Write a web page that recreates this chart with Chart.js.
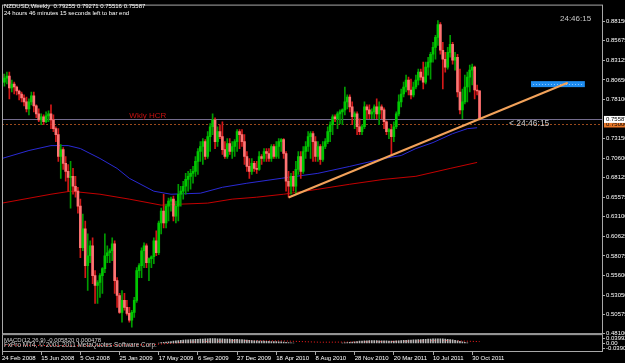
<!DOCTYPE html>
<html>
<head>
<meta charset="utf-8">
<script src="https://cdn.jsdelivr.net/npm/chart.js@4.4.1/dist/chart.umd.min.js"></script>
<style>
html, body { margin: 0; padding: 0; background: #000; overflow: hidden; }
canvas { display: block; }
</style>
</head>
<body>
<canvas id="chart" width="625" height="363"></canvas>
<script>
// NZDUSD weekly candles (24 Feb 2008 .. 20 Nov 2011)
var opens = [
  0.8140, 0.8038, 0.8089, 0.8115, 0.7962, 0.8013, 0.7975, 0.7924, 0.7885, 0.7834,
  0.7784, 0.7694, 0.7784, 0.7860, 0.7733, 0.7631, 0.7554, 0.7593, 0.7529, 0.7605,
  0.7631, 0.7554, 0.7440, 0.7363, 0.7083, 0.7172, 0.6994, 0.6892, 0.6816, 0.6829,
  0.6701, 0.6638, 0.6447, 0.5912, 0.6154, 0.5682, 0.5810, 0.5937, 0.5555, 0.5428,
  0.5466, 0.5555, 0.5644, 0.5810, 0.5848, 0.5874, 0.5963, 0.5491, 0.5300, 0.5084,
  0.5237, 0.5148, 0.5071, 0.4982, 0.5084, 0.5237, 0.5619, 0.5682, 0.5874, 0.5937,
  0.5721, 0.5772, 0.5797, 0.6001, 0.5848, 0.6230, 0.6383, 0.6230, 0.6447, 0.6510,
  0.6536, 0.6319, 0.6447, 0.6599, 0.6638, 0.6701, 0.6790, 0.6829, 0.6867, 0.6892,
  0.7020, 0.7147, 0.7211, 0.7274, 0.7083, 0.7338, 0.7465, 0.7554, 0.7274, 0.7402,
  0.7338, 0.7172, 0.7083, 0.7249, 0.7147, 0.7211, 0.7274, 0.7402, 0.7363, 0.7274,
  0.7083, 0.6956, 0.6892, 0.6994, 0.6930, 0.6918, 0.7083, 0.7058, 0.7147, 0.7122,
  0.7058, 0.7211, 0.7083, 0.7211, 0.7274, 0.7300, 0.7122, 0.6765, 0.6701, 0.6829,
  0.6701, 0.6918, 0.7083, 0.6892, 0.7147, 0.7211, 0.7338, 0.7376, 0.7274, 0.7083,
  0.7211, 0.7045, 0.7211, 0.7274, 0.7402, 0.7491, 0.7593, 0.7567, 0.7631, 0.7656,
  0.7682, 0.7784, 0.7847, 0.7720, 0.7593, 0.7631, 0.7465, 0.7402, 0.7465, 0.7720,
  0.7682, 0.7631, 0.7656, 0.7720, 0.7631, 0.7720, 0.7682, 0.7529, 0.7402, 0.7427,
  0.7338, 0.7465, 0.7631, 0.7784, 0.7885, 0.7975, 0.8064, 0.7936, 0.7873, 0.7975,
  0.8064, 0.8166, 0.8102, 0.8038, 0.8229, 0.8293, 0.8395, 0.8484, 0.8611, 0.8777,
  0.8446, 0.8331, 0.8229, 0.8420, 0.8522, 0.8318, 0.8357, 0.7911, 0.7682, 0.7784,
  0.7975, 0.8102, 0.8191, 0.8229, 0.7936, 0.79255
];
var highs = [
  0.8204, 0.8140, 0.8166, 0.8166, 0.8064, 0.8038, 0.7987, 0.7936, 0.7911, 0.7873,
  0.7847, 0.7822, 0.7911, 0.7911, 0.7745, 0.7694, 0.7631, 0.7618, 0.7656, 0.7669,
  0.7745, 0.7618, 0.7465, 0.7440, 0.7236, 0.7198, 0.7083, 0.6981, 0.7020, 0.6930,
  0.6829, 0.6688, 0.6536, 0.6345, 0.6256, 0.6090, 0.6001, 0.6039, 0.5619, 0.5491,
  0.5580, 0.5657, 0.6090, 0.5937, 0.5899, 0.6039, 0.6001, 0.5530, 0.5326, 0.5364,
  0.5326, 0.5237, 0.5148, 0.5110, 0.5275, 0.5657, 0.5708, 0.5912, 0.5975, 0.5963,
  0.5784, 0.5810, 0.6039, 0.6128, 0.6256, 0.6421, 0.6599, 0.6472, 0.6549, 0.6561,
  0.6574, 0.6510, 0.6727, 0.6701, 0.6765, 0.6867, 0.6892, 0.6918, 0.6956, 0.7083,
  0.7185, 0.7274, 0.7312, 0.7300, 0.7402, 0.7504, 0.7631, 0.7580, 0.7465, 0.7491,
  0.7529, 0.7274, 0.7312, 0.7312, 0.7274, 0.7300, 0.7427, 0.7427, 0.7427, 0.7363,
  0.7147, 0.7058, 0.7058, 0.7020, 0.7020, 0.7147, 0.7109, 0.7185, 0.7185, 0.7185,
  0.7236, 0.7236, 0.7274, 0.7312, 0.7312, 0.7312, 0.7147, 0.6892, 0.6867, 0.6892,
  0.7020, 0.7147, 0.7147, 0.7211, 0.7274, 0.7402, 0.7402, 0.7402, 0.7338, 0.7274,
  0.7236, 0.7274, 0.7312, 0.7465, 0.7529, 0.7618, 0.7618, 0.7656, 0.7682, 0.7694,
  0.7975, 0.7873, 0.7873, 0.7784, 0.7656, 0.7656, 0.7567, 0.7491, 0.7784, 0.7745,
  0.7745, 0.7694, 0.7745, 0.7822, 0.7784, 0.7745, 0.7707, 0.7542, 0.7440, 0.7491,
  0.7529, 0.7656, 0.7873, 0.7949, 0.8038, 0.8127, 0.8102, 0.8076, 0.8038, 0.8127,
  0.8204, 0.8204, 0.8293, 0.8293, 0.8357, 0.8420, 0.8548, 0.8637, 0.8828, 0.8802,
  0.8548, 0.8420, 0.8484, 0.8637, 0.8548, 0.8420, 0.8395, 0.8204, 0.7949, 0.8127,
  0.8166, 0.8255, 0.8268, 0.8242, 0.8000, 0.79271
];
var lows = [
  0.7949, 0.7987, 0.8013, 0.7822, 0.7911, 0.7885, 0.7873, 0.7809, 0.7784, 0.7733,
  0.7656, 0.7618, 0.7745, 0.7656, 0.7580, 0.7529, 0.7491, 0.7491, 0.7516, 0.7529,
  0.7440, 0.7402, 0.7274, 0.7020, 0.6803, 0.6918, 0.6765, 0.6638, 0.6421, 0.6599,
  0.6561, 0.6357, 0.5784, 0.5874, 0.5530, 0.5364, 0.5721, 0.5453, 0.5199, 0.5199,
  0.5275, 0.5326, 0.5593, 0.5721, 0.5721, 0.5746, 0.5326, 0.5148, 0.5071, 0.4957,
  0.5110, 0.5046, 0.4957, 0.4893, 0.5020, 0.5211, 0.5530, 0.5530, 0.5657, 0.5657,
  0.5491, 0.5657, 0.5708, 0.5810, 0.5823, 0.6090, 0.6166, 0.6166, 0.6256, 0.6383,
  0.6256, 0.6230, 0.6256, 0.6447, 0.6536, 0.6599, 0.6638, 0.6663, 0.6740, 0.6829,
  0.6854, 0.7020, 0.6981, 0.7045, 0.7058, 0.7147, 0.7363, 0.7185, 0.7211, 0.7312,
  0.7109, 0.7058, 0.7058, 0.7109, 0.7058, 0.7083, 0.7147, 0.7185, 0.7211, 0.6981,
  0.6892, 0.6803, 0.6854, 0.6892, 0.6867, 0.6905, 0.6981, 0.7020, 0.7020, 0.7020,
  0.7020, 0.7058, 0.7058, 0.7058, 0.7147, 0.7058, 0.6638, 0.6561, 0.6599, 0.6638,
  0.6599, 0.6854, 0.6803, 0.6867, 0.7058, 0.7147, 0.7058, 0.7020, 0.7020, 0.7020,
  0.6981, 0.7020, 0.7185, 0.7249, 0.7274, 0.7363, 0.7529, 0.7440, 0.7504, 0.7491,
  0.7618, 0.7694, 0.7656, 0.7491, 0.7440, 0.7363, 0.7363, 0.7363, 0.7440, 0.7567,
  0.7567, 0.7567, 0.7567, 0.7567, 0.7491, 0.7567, 0.7440, 0.7363, 0.7312, 0.7109,
  0.7274, 0.7440, 0.7605, 0.7720, 0.7847, 0.7911, 0.7873, 0.7822, 0.7847, 0.7949,
  0.8000, 0.8064, 0.7949, 0.8013, 0.8127, 0.8076, 0.8293, 0.8331, 0.8509, 0.8395,
  0.7949, 0.8166, 0.8204, 0.8357, 0.8268, 0.8191, 0.7847, 0.7631, 0.7567, 0.7758,
  0.7784, 0.7911, 0.8000, 0.7822, 0.7873, 0.75516
];
var closes = [
  0.8038, 0.8089, 0.8115, 0.7962, 0.8013, 0.7975, 0.7924, 0.7885, 0.7834, 0.7784,
  0.7694, 0.7784, 0.7860, 0.7733, 0.7631, 0.7554, 0.7593, 0.7529, 0.7605, 0.7631,
  0.7554, 0.7440, 0.7363, 0.7083, 0.7172, 0.6994, 0.6892, 0.6816, 0.6829, 0.6701,
  0.6638, 0.6447, 0.5912, 0.6154, 0.5682, 0.5810, 0.5937, 0.5555, 0.5428, 0.5466,
  0.5555, 0.5644, 0.5810, 0.5848, 0.5874, 0.5963, 0.5491, 0.5300, 0.5084, 0.5237,
  0.5148, 0.5071, 0.4982, 0.5084, 0.5237, 0.5619, 0.5682, 0.5874, 0.5937, 0.5721,
  0.5772, 0.5797, 0.6001, 0.5848, 0.6230, 0.6383, 0.6230, 0.6447, 0.6510, 0.6536,
  0.6319, 0.6447, 0.6599, 0.6638, 0.6701, 0.6790, 0.6829, 0.6867, 0.6892, 0.7020,
  0.7147, 0.7211, 0.7274, 0.7083, 0.7338, 0.7465, 0.7554, 0.7274, 0.7402, 0.7338,
  0.7172, 0.7083, 0.7249, 0.7147, 0.7211, 0.7274, 0.7402, 0.7363, 0.7274, 0.7083,
  0.6956, 0.6892, 0.6994, 0.6930, 0.6918, 0.7083, 0.7058, 0.7147, 0.7122, 0.7058,
  0.7211, 0.7083, 0.7211, 0.7274, 0.7300, 0.7122, 0.6765, 0.6701, 0.6829, 0.6701,
  0.6918, 0.7083, 0.6892, 0.7147, 0.7211, 0.7338, 0.7376, 0.7274, 0.7083, 0.7211,
  0.7045, 0.7211, 0.7274, 0.7402, 0.7491, 0.7593, 0.7567, 0.7631, 0.7656, 0.7682,
  0.7784, 0.7847, 0.7720, 0.7593, 0.7631, 0.7465, 0.7402, 0.7465, 0.7720, 0.7682,
  0.7631, 0.7656, 0.7720, 0.7631, 0.7720, 0.7682, 0.7529, 0.7402, 0.7427, 0.7338,
  0.7465, 0.7631, 0.7784, 0.7885, 0.7975, 0.8064, 0.7936, 0.7873, 0.7975, 0.8064,
  0.8166, 0.8102, 0.8038, 0.8229, 0.8293, 0.8395, 0.8484, 0.8611, 0.8777, 0.8446,
  0.8331, 0.8229, 0.8420, 0.8522, 0.8318, 0.8357, 0.7911, 0.7682, 0.7784, 0.7975,
  0.8102, 0.8191, 0.8229, 0.7936, 0.7924, 0.75587
];

// 196 weekly bars + empty chart shift on the right
var totalBars = 246;
var tickBars = [0, 16, 32, 48, 64, 80, 96, 112, 128, 144, 160, 176, 192];
var tickLabels = ["24 Feb 2008", "15 Jun 2008", "5 Oct 2008", "25 Jan 2009", "17 May 2009", "6 Sep 2009",
  "27 Dec 2009", "18 Apr 2010", "8 Aug 2010", "28 Nov 2010", "20 Mar 2011", "10 Jul 2011", "30 Oct 2011"];
var priceTicks = [0.88150, 0.85675, 0.83125, 0.80650, 0.78100, 0.73150, 0.70600, 0.68125,
  0.65575, 0.63100, 0.60625, 0.58075, 0.55600, 0.53050, 0.50575, 0.48100];
var macdTicks = [0.03992, 0, -0.03907];

// moving averages
var blueMaBars = [0, 11, 20, 27, 32, 40, 47, 52, 62, 69, 81, 90, 100, 114, 129, 142, 156, 163, 169, 176, 184, 190, 194];
var blueMaVals = [0.7058, 0.7160, 0.7223, 0.7223, 0.7185, 0.7058, 0.6930, 0.6803, 0.6638, 0.6599, 0.6612, 0.6688,
  0.6740, 0.6803, 0.6867, 0.6956, 0.7058, 0.7096, 0.7185, 0.7262, 0.7376, 0.7440, 0.7452];
var redMaBars = [0, 20, 28, 40, 52, 65, 73, 84, 94, 104, 115, 129, 142, 156, 169, 183, 194];
var redMaVals = [0.6485, 0.6599, 0.6638, 0.6599, 0.6536, 0.6459, 0.6472, 0.6485, 0.6536, 0.6561, 0.6599,
  0.6663, 0.6727, 0.6790, 0.6829, 0.6930, 0.7007];

// drawn objects
var trendBars = [117, 231];
var trendVals = [0.6557, 0.8029];
var boxBars = [216, 238];
var boxVals = [0.8050, 0.7973];
var bidPrice = 0.75587;
var hcrPrice = 0.75000;

// MACD(12,26,9) sub window
var macdStartA = 64;
var macdHistA = [
  0.004, 0.007, 0.009, 0.012, 0.014, 0.016, 0.018, 0.020, 0.022, 0.024,
  0.026, 0.028, 0.029, 0.030, 0.031, 0.032, 0.033, 0.034, 0.035, 0.036,
  0.037, 0.038, 0.038, 0.038, 0.037, 0.037, 0.036, 0.035, 0.035, 0.034,
  0.033, 0.033, 0.032, 0.031, 0.030, 0.028, 0.026, 0.024, 0.022, 0.021,
  0.020, 0.019, 0.018, 0.018, 0.017, 0.017, 0.016, 0.016, 0.015, 0.014,
  0.013, 0.012, 0.010, 0.008, 0.006, 0.004
];
var macdStartB = 139;
var macdHistB = [
  0.004, 0.006, 0.008, 0.010, 0.012, 0.014, 0.016, 0.018, 0.019, 0.020,
  0.021, 0.022, 0.022, 0.022, 0.022, 0.021, 0.021, 0.020, 0.020, 0.019,
  0.019, 0.019, 0.020, 0.021, 0.022, 0.024, 0.025, 0.026, 0.027, 0.028,
  0.029, 0.030, 0.031, 0.032, 0.033, 0.034, 0.035, 0.036, 0.037, 0.037,
  0.037, 0.036, 0.035, 0.033, 0.031, 0.028, 0.025, 0.021, 0.017, 0.013,
  0.009, 0.005
];
var signalBars = [0, 30, 60, 75, 95, 115, 130, 145, 165, 180, 195];
var signalVals = [-0.012, -0.018, -0.010, 0.010, 0.022, 0.020, 0.010, 0.012, 0.018, 0.024, 0.015];

var labels = [];
for (var i = 0; i < totalBars; i++) labels.push(i);

var isBull = closes.map(function (c, i) { return c >= opens[i]; });
var wicks = lows.map(function (l, i) { return [l, highs[i]]; });
var bodies = opens.map(function (o, i) { return [o, closes[i]]; });

function pts(bars, vals) {
  return bars.map(function (b, i) { return { x: b, y: vals[i] }; });
}
var macdPts = macdHistA.map(function (v, i) { return { x: macdStartA + i, y: v }; })
  .concat(macdHistB.map(function (v, i) { return { x: macdStartB + i, y: v }; }));

var FONT = "'Liberation Sans', Arial, sans-serif";
Chart.defaults.font.family = FONT;

var overlay = {
  id: 'overlay',
  beforeDraw: function (chart) {
    var ctx = chart.ctx;
    ctx.save();
    ctx.fillStyle = '#000';
    ctx.fillRect(0, 0, chart.width, chart.height);
    ctx.restore();
  },
  beforeDatasetsDraw: function (chart) {
    var ctx = chart.ctx, a = chart.chartArea, x = chart.scales.x, y = chart.scales.y;
    ctx.save();
    // blue rectangle
    var bx0 = x.getPixelForValue(boxBars[0]), bx1 = x.getPixelForValue(boxBars[1]);
    var by0 = y.getPixelForValue(boxVals[0]), by1 = y.getPixelForValue(boxVals[1]);
    ctx.fillStyle = '#1e8cf0';
    ctx.fillRect(bx0, by0, bx1 - bx0, by1 - by0);
    ctx.strokeStyle = '#8cc8ff';
    ctx.setLineDash([1, 2]);
    ctx.beginPath();
    var bm = Math.round((by0 + by1) / 2) + 0.5;
    ctx.moveTo(bx0 + 2, bm); ctx.lineTo(bx1 - 2, bm);
    ctx.stroke();
    // HCR dotted line
    var hy = Math.round(y.getPixelForValue(hcrPrice)) + 0.5;
    ctx.strokeStyle = '#9a4a1c';
    ctx.setLineDash([2, 2]);
    ctx.beginPath(); ctx.moveTo(a.left, hy); ctx.lineTo(a.right, hy); ctx.stroke();
    // bid line
    var py = Math.round(y.getPixelForValue(bidPrice)) + 0.5;
    ctx.setLineDash([]);
    ctx.strokeStyle = '#736b8c';
    ctx.beginPath(); ctx.moveTo(a.left, py); ctx.lineTo(a.right, py); ctx.stroke();
    // labels on the chart
    ctx.fillStyle = '#c81010';
    ctx.font = '8px ' + FONT;
    ctx.textBaseline = 'alphabetic';
    ctx.fillText('Wkly HCR', x.getPixelForValue(52), hy - 7);
    ctx.restore();
  },
  afterDraw: function (chart) {
    var ctx = chart.ctx, a = chart.chartArea, x = chart.scales.x, y = chart.scales.y, y2 = chart.scales.y2;
    ctx.save();
    // pane frames
    ctx.strokeStyle = '#a8a8a8';
    ctx.lineWidth = 1;
    ctx.strokeRect(a.left + 0.5, y.top + 0.5, a.right - a.left, y.bottom - y.top - 1);
    ctx.strokeRect(a.left + 0.5, y2.top + 0.5, a.right - a.left, y2.bottom - y2.top - 1);
    // price boxes
    var hy = y.getPixelForValue(hcrPrice), py = y.getPixelForValue(bidPrice);
    ctx.font = '6px ' + FONT;
    ctx.textBaseline = 'middle';
    ctx.fillStyle = '#e8782a';
    ctx.fillRect(a.right + 2, hy - 3.5, 30, 7);
    ctx.fillStyle = '#000';
    ctx.fillText(hcrPrice.toFixed(5), a.right + 4, hy);
    ctx.fillStyle = '#ffffff';
    ctx.fillRect(a.right + 2, py - 3.5, 30, 7);
    ctx.fillStyle = '#000';
    ctx.fillText(bidPrice.toFixed(5), a.right + 4, py);
    // header texts
    ctx.fillStyle = '#ffffff';
    ctx.textBaseline = 'top';
    ctx.fillText('NZDUSD,Weekly  0.79255 0.79271 0.75516 0.75587', a.left + 2, 3);
    ctx.fillText('24 hours 46 minutes 15 seconds left to bar end', a.left + 2, 10);
    ctx.fillStyle = '#d0d0d0';
    ctx.fillText('MACD(12,26,9) -0.005820 0.000478', a.left + 2, y2.top + 3);
    ctx.font = '6.4px ' + FONT;
    ctx.fillText('FxPro MT4, \u00a9 2001-2011 MetaQuotes Software Corp.', a.left + 2, y2.top + 8);
    // countdown texts
    ctx.fillStyle = '#c8c8c8';
    ctx.font = '8px ' + FONT;
    ctx.textBaseline = 'middle';
    ctx.fillText('24:46:15', a.right - 42, 19);
    ctx.font = '8.5px ' + FONT;
    ctx.fillText('< 24:46:15', x.getPixelForValue(207), hy);
    ctx.restore();
  }
};

new Chart(document.getElementById('chart'), {
  type: 'bar',
  data: {
    labels: labels,
    datasets: [
      { type: 'line', label: 'Trend line', data: pts(trendBars, trendVals), borderColor: '#f2a25a',
        borderWidth: 2, pointRadius: 0, yAxisID: 'y', order: 0 },
      { label: 'Body', data: bodies, yAxisID: 'y', grouped: false, barThickness: 2, order: 1,
        backgroundColor: isBull.map(function (b) { return b ? '#00c800' : '#ff7474'; }) },
      { label: 'Wick', data: wicks, yAxisID: 'y', grouped: false, barThickness: 1, order: 2,
        backgroundColor: isBull.map(function (b) { return b ? '#009c00' : '#d41818'; }) },
      { type: 'line', label: 'MA blue', data: pts(blueMaBars, blueMaVals), borderColor: '#2a2ad4',
        borderWidth: 1, pointRadius: 0, yAxisID: 'y', order: 3 },
      { type: 'line', label: 'MA red', data: pts(redMaBars, redMaVals), borderColor: '#c40000',
        borderWidth: 1, pointRadius: 0, yAxisID: 'y', order: 3 },
      { label: 'MACD', data: macdPts, yAxisID: 'y2', grouped: false, barThickness: 1,
        backgroundColor: '#b8b8b8', order: 4 },
      { type: 'line', label: 'Signal', data: pts(signalBars, signalVals), yAxisID: 'y2',
        borderColor: '#ff2020', borderDash: [1, 2], borderWidth: 1, pointRadius: 0, order: 4 }
    ]
  },
  options: {
    responsive: false,
    animation: false,
    events: [],
    layout: { padding: { left: 2, top: 2, right: 0, bottom: 0 } },
    plugins: { legend: { display: false }, tooltip: { enabled: false } },
    scales: {
      x: {
        type: 'category',
        offset: false,
        grid: { display: true, offset: false, drawOnChartArea: false, tickLength: 3, color: '#a8a8a8' },
        border: { display: false },
        ticks: {
          color: '#ffffff', font: { size: 6 }, padding: 0, align: 'start',
          autoSkip: false, maxRotation: 0, minRotation: 0,
          callback: function (v) { return tickLabels[tickBars.indexOf(v)]; }
        },
        afterBuildTicks: function (s) { s.ticks = tickBars.map(function (b) { return { value: b }; }); },
        afterFit: function (s) { s.height = 11; }
      },
      y: {
        type: 'linear', position: 'right', stack: 'panes', stackWeight: 332,
        min: 0.4804, max: 0.9032,
        grid: { display: true, drawOnChartArea: false, tickLength: 3, color: '#a8a8a8' },
        border: { display: false },
        ticks: { color: '#ffffff', font: { size: 6 }, padding: 1, autoSkip: false,
          callback: function (v) { return v.toFixed(5); } },
        afterBuildTicks: function (s) { s.ticks = priceTicks.map(function (v) { return { value: v }; }); },
        afterFit: function (s) { s.width = 23; }
      },
      y2: {
        type: 'linear', position: 'right', stack: 'panes', stackWeight: 18,
        min: -0.066, max: 0.073,
        grid: { display: true, drawOnChartArea: false, tickLength: 3, color: '#a8a8a8' },
        border: { display: false },
        ticks: { color: '#ffffff', font: { size: 6 }, padding: 1, autoSkip: false,
          callback: function (v) { return v === 0 ? '0.00' : v.toFixed(5); } },
        afterBuildTicks: function (s) { s.ticks = macdTicks.map(function (v) { return { value: v }; }); },
        afterFit: function (s) { s.width = 23; }
      }
    }
  },
  plugins: [overlay]
});
</script>
</body>
</html>
